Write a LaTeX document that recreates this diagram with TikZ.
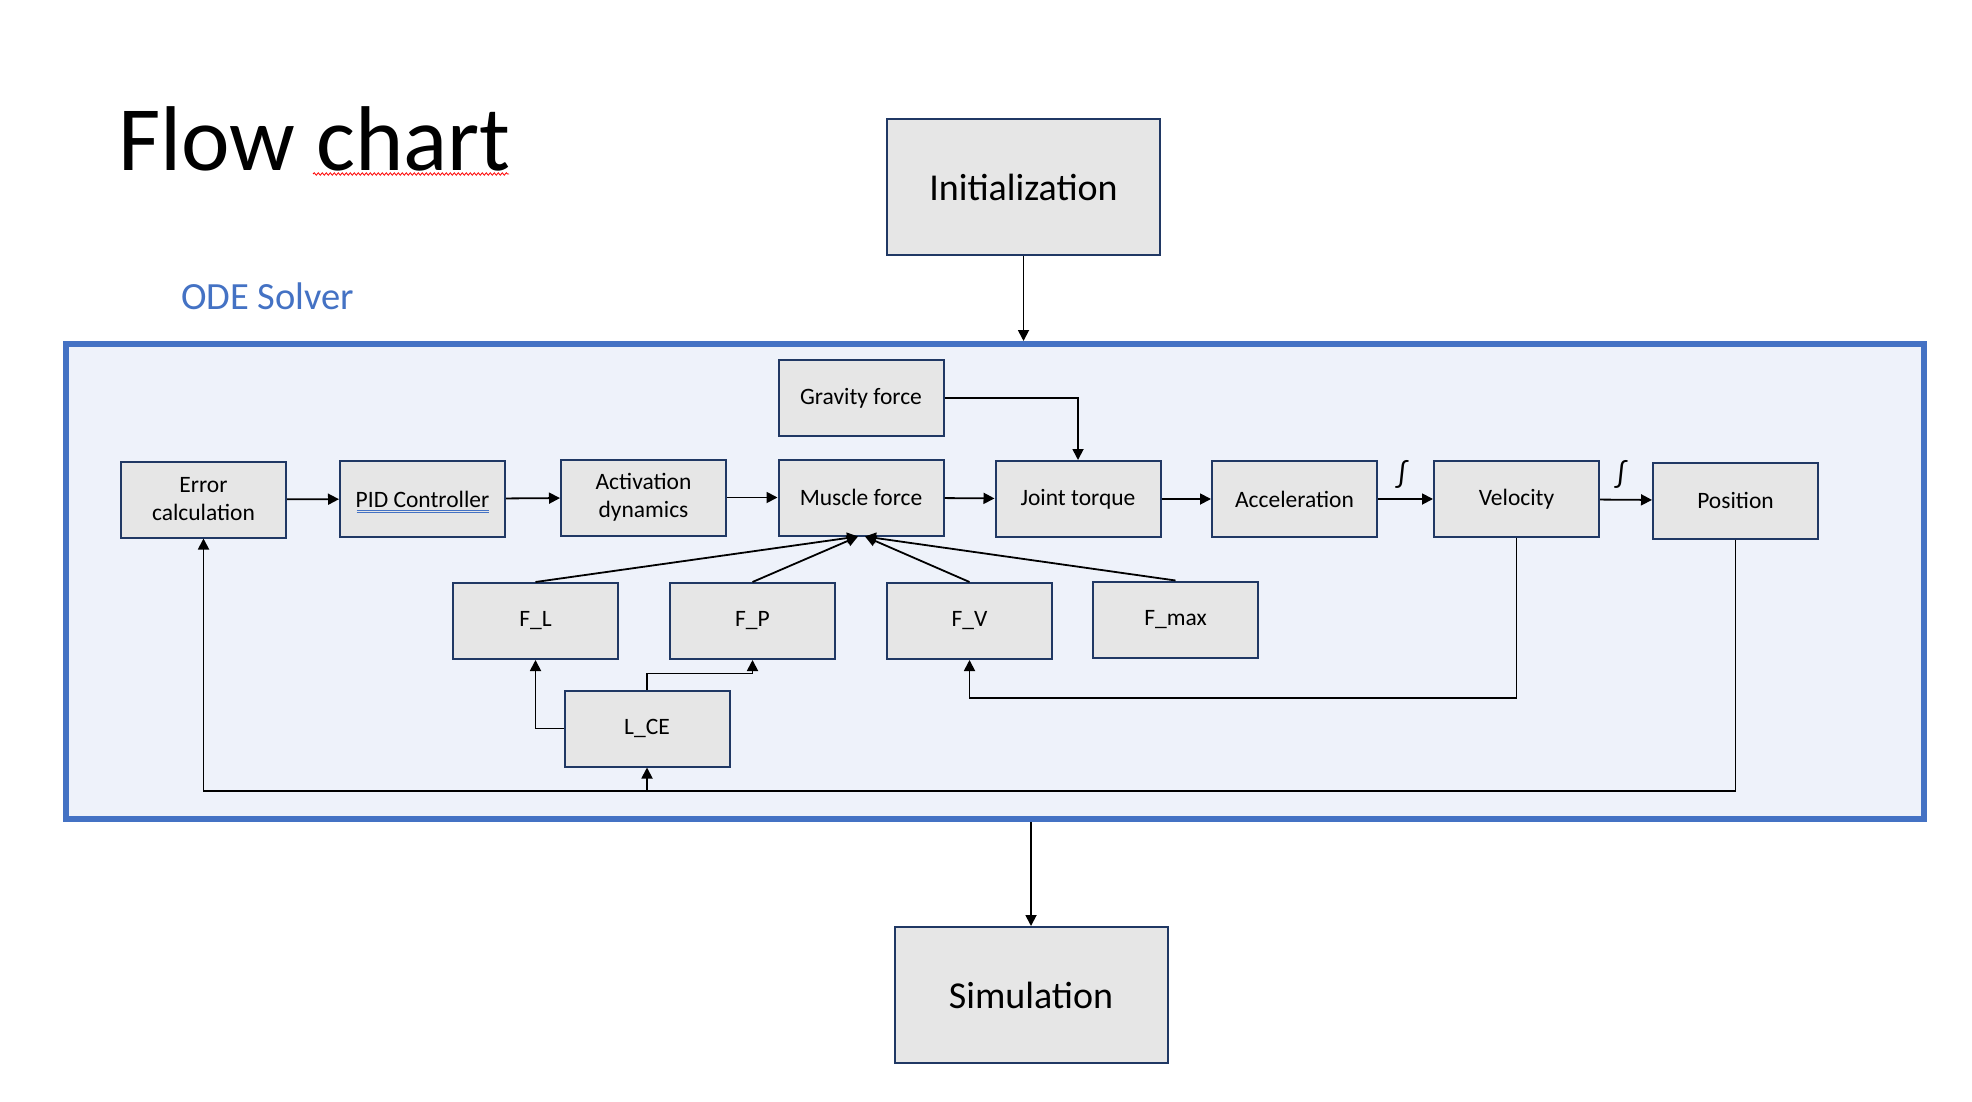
\documentclass[tikz,border=0pt]{standalone}
\usepackage{fontspec}
\setmainfont{Carlito}
\usetikzlibrary{arrows.meta, decorations.pathmorphing}
\definecolor{boxgray}{RGB}{230,230,230}
\definecolor{boxnavy}{RGB}{32,56,100}
\definecolor{odeblue}{RGB}{68,114,196}
\definecolor{odefill}{RGB}{238,242,250}

\begin{document}
\begin{tikzpicture}[x=1pt, y=-1pt,
    block/.style={draw=boxnavy, fill=boxgray, line width=2pt, minimum width=165pt, minimum height=76pt,
        inner sep=0pt, align=center, font=\fontsize{23.5}{28}\selectfont},
    bigblock/.style={block, minimum width=273pt, minimum height=136pt, font=\fontsize{38}{44}\selectfont},
    arr/.style={-{Triangle[length=11pt, width=11pt]}, line width=1.8pt}]

    % Page and titles
    \path[use as bounding box, fill=white] (0,0) rectangle (1972,1102);
    \node[anchor=base west, inner sep=0pt, font=\fontsize{92}{110}\selectfont] (title) at (118,171) {Flow chart};
    \draw[red, line width=0.8pt, decorate, decoration={snake, amplitude=1.2pt, segment length=4pt}] (313,174) -- (509,174);
    \node[anchor=base west, inner sep=0pt, text=odeblue, font=\fontsize{38.5}{44}\selectfont] (odelabel) at (181,309) {ODE Solver};

    % The solver frame
    \node[draw=odeblue, fill=odefill, line width=6pt, minimum width=1858pt, minimum height=475pt, inner sep=0pt] (ode) at (995,581.5) {};

    % Outer blocks
    \node[bigblock] (init) at (1023.5,187) {Initialization};
    \node[bigblock] (sim) at (1031,995) {Simulation};

    % Main chain
    \node[block] (err) at (203.5,499.5) {Error\\calculation};
    \node[block] (pid) at (422.5,499) {PID Controller};
    \node[block] (act) at (643.5,497.5) {Activation\\dynamics};
    \node[block] (grav) at (861,398) {Gravity force};
    \node[block] (mus) at (861,497.5) {Muscle force};
    \node[block] (jt) at (1078,499) {Joint torque};
    \node[block] (acc) at (1294.5,499) {Acceleration};
    \node[block] (vel) at (1516.5,499) {Velocity};
    \node[block] (pos) at (1735.5,500.5) {Position};

    % Muscle force inputs
    \node[block] (fl) at (535.5,621) {F\_L};
    \node[block] (fp) at (752.5,621) {F\_P};
    \node[block] (fv) at (969.5,621) {F\_V};
    \node[block] (fmax) at (1175.5,619.5) {F\_max};
    \node[block] (lce) at (647,728.5) {L\_CE};

    \draw[odeblue, line width=0.8pt] ([xshift=-66pt, yshift=-11pt]pid.center) -- ++(132,0);
    \draw[odeblue, line width=0.8pt] ([xshift=-66pt, yshift=-13.5pt]pid.center) -- ++(132,0);

    % Integrals
    \node[font=\fontsize{30}{34}\selectfont] (int1) at (1402,474) {∫};
    \node[font=\fontsize{30}{34}\selectfont] (int2) at (1621,474) {∫};

    % Arrows along the chain
    \draw[arr] (init.south) -- (init.south |- ode.north);
    \draw[arr] (err) -- (pid);
    \draw[arr] (pid) -- (act);
    \draw[arr] (act) -- (mus);
    \draw[arr] (mus) -- (jt);
    \draw[arr] (grav.east) -| (jt.north);
    \draw[arr] (jt) -- (acc);
    \draw[arr] (acc) -- (vel);
    \draw[arr] (vel) -- (pos);
    \draw[arr] (sim.north |- ode.south) -- (sim.north);

    % Inputs into the muscle force
    \foreach \src/\dx in {fl/-3, fp/-3, fv/4, fmax/4}
        \draw[arr] (\src.north) -- ([xshift=\dx pt]mus.south);
    \draw[arr] (lce.west) -| (fl.south);
    \draw[arr] (lce.north) -- ++(0,-16) -| (fp.south);

    % Feedback lines
    \coordinate (midline) at (0,698);
    \coordinate (lowline) at (0,791);
    \draw[arr] (vel.south) |- (midline -| fv.south) -- (fv.south);
    \draw[arr] (pos.south) |- (lowline -| err.south) -- (err.south);
    \draw[arr] (lowline -| lce.south) -- (lce.south);
\end{tikzpicture}
\end{document}
